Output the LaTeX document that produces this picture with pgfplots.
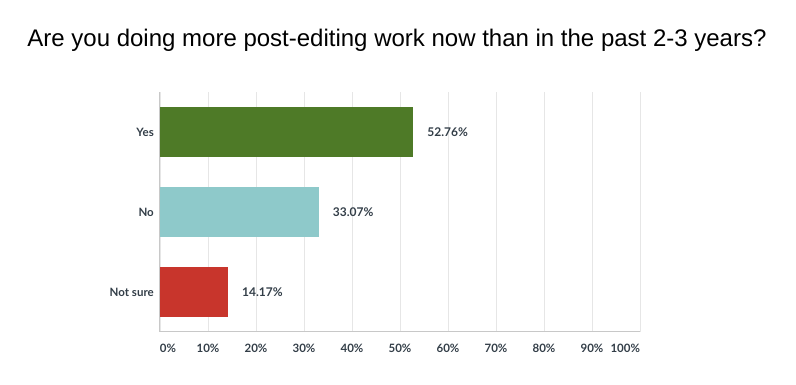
\documentclass[border=0pt]{standalone}
\usepackage{fontspec}
\setmainfont{Liberation Sans}
\newfontfamily\labfont{Lato}
\usepackage{pgfplots}
\pgfplotsset{compat=1.18}
\definecolor{cyes}{HTML}{4E7A27}
\definecolor{cno}{HTML}{8EC9CA}
\definecolor{cns}{HTML}{C8352C}
\definecolor{txt}{HTML}{333E48}
\definecolor{gridc}{HTML}{E6E6E6}
\definecolor{axc}{HTML}{C8C8C8}
\begin{document}
\begin{tikzpicture}[x=1pt,y=1pt]
\useasboundingbox (-160,-53) rectangle (636,332);
\begin{axis}[at={(0,0)}, anchor=south west, scale only axis,
  width=480pt, height=240pt,
  xbar, bar width=50pt, bar shift=0pt,
  xmin=0, xmax=100, ymin=-0.5, ymax=2.5,
  ytick={0,1,2}, yticklabels={Not sure, No, Yes},
  xtick={0,10,...,100},
  xticklabels={{\hphantom{0\%}0\%},10\%,20\%,30\%,40\%,50\%,60\%,70\%,80\%,90\%,{100\%\hphantom{100\%}}},
  axis x line*=bottom, axis y line*=left,
  axis line style={axc, line width=1pt},
  major tick length=0pt,
  xmajorgrids, grid style={gridc, line width=0.8pt},
  tick label style={font=\labfont\bfseries\fontsize{11.5}{13}\selectfont, text=txt},
  yticklabel style={anchor=east, inner sep=0pt, xshift=-6pt},
  xticklabel style={anchor=north, inner sep=0pt, yshift=-12pt},
  /pgf/number format/assume math mode=true,
  nodes near coords={\pgfmathprintnumber[fixed,precision=2,fixed zerofill,assume math mode=true]{\pgfplotspointmeta}\%},
  point meta=x,
  nodes near coords style={anchor=west, inner sep=0pt, xshift=14pt, text=txt, font=\labfont\bfseries\fontsize{12}{14}\selectfont},
]
\addplot[fill=cyes, draw=none] coordinates {(52.76,2)};
\addplot[fill=cno, draw=none] coordinates {(33.07,1)};
\addplot[fill=cns, draw=none] coordinates {(14.17,0)};
\end{axis}
\node[font=\fontsize{24}{29}\selectfont, text=black] at (237,292) {Are you doing more post-editing work now than in the past 2-3 years?};
\end{tikzpicture}
\end{document}
